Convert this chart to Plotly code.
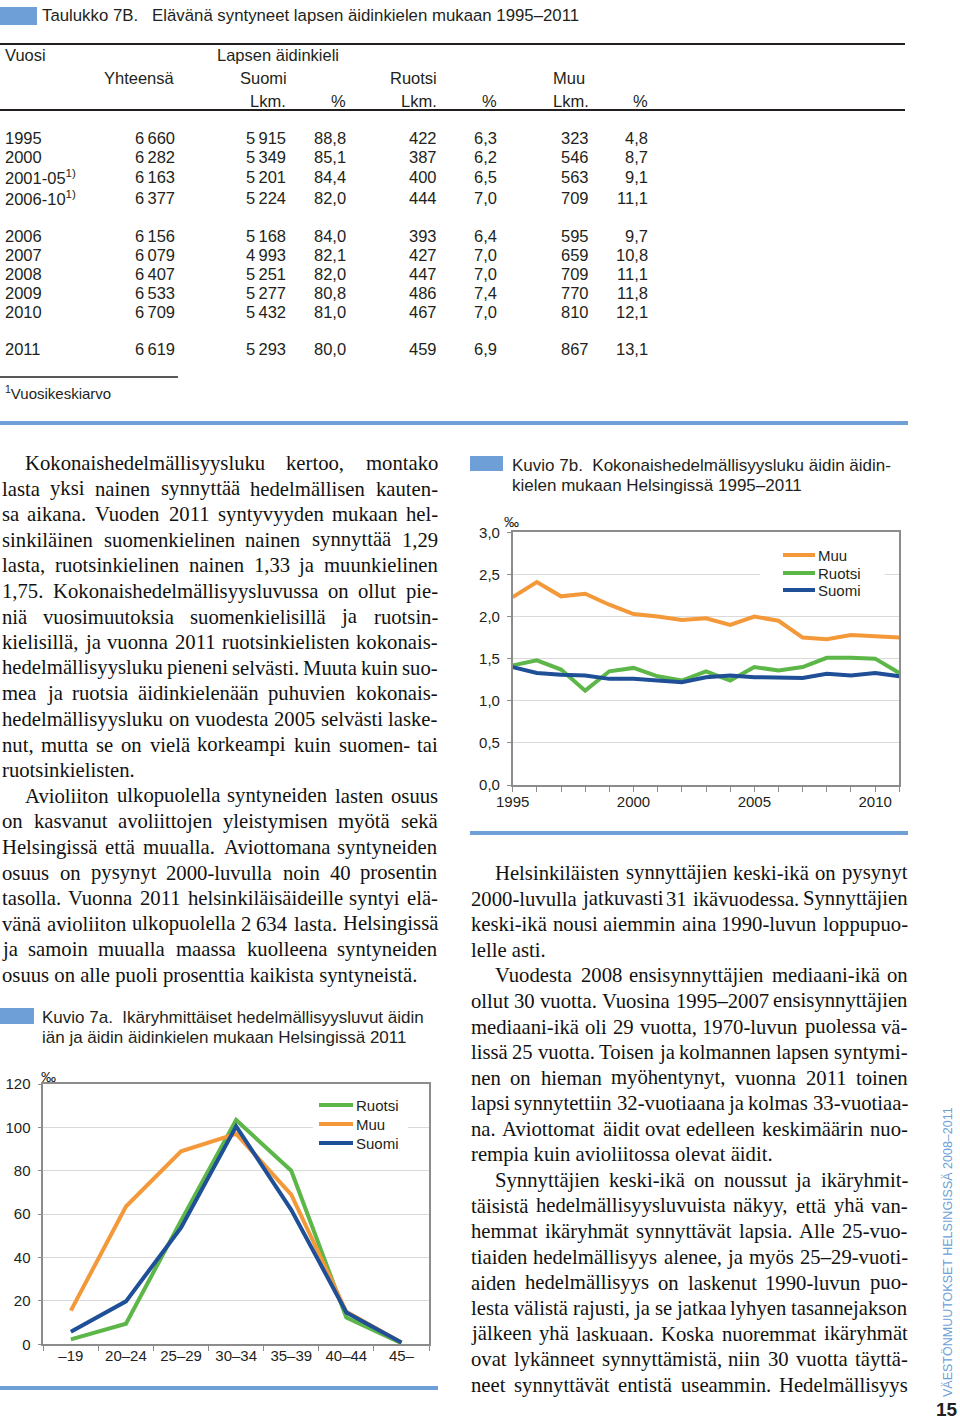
import plotly.graph_objects as go

W, H = 960, 1420

# ---------------- DATA ----------------
# Taulukko 7B
table_years = ["1995", "2000", "2001-05", "2006-10", "2006", "2007", "2008", "2009", "2010", "2011"]
table_avg = [False, False, True, True, False, False, False, False, False, False]
yhteensa = [6660, 6282, 6163, 6377, 6156, 6079, 6407, 6533, 6709, 6619]
suomi_lkm = [5915, 5349, 5201, 5224, 5168, 4993, 5251, 5277, 5432, 5293]
suomi_pct = [88.8, 85.1, 84.4, 82.0, 84.0, 82.1, 82.0, 80.8, 81.0, 80.0]
ruotsi_lkm = [422, 387, 400, 444, 393, 427, 447, 486, 467, 459]
ruotsi_pct = [6.3, 6.2, 6.5, 7.0, 6.4, 7.0, 7.0, 7.4, 7.0, 6.9]
muu_lkm = [323, 546, 563, 709, 595, 659, 709, 770, 810, 867]
muu_pct = [4.8, 8.7, 9.1, 11.1, 9.7, 10.8, 11.1, 11.8, 12.1, 13.1]

# Kuvio 7b
years = list(range(1995, 2012))
tfr_muu = [2.23, 2.41, 2.24, 2.27, 2.14, 2.03, 2.00, 1.96, 1.98, 1.90, 2.00, 1.95, 1.75, 1.73, 1.78, 1.76, 1.75]
tfr_ruotsi = [1.42, 1.48, 1.37, 1.12, 1.35, 1.39, 1.29, 1.24, 1.35, 1.24, 1.40, 1.36, 1.40, 1.51, 1.51, 1.50, 1.33]
tfr_suomi = [1.40, 1.33, 1.31, 1.30, 1.26, 1.26, 1.24, 1.22, 1.28, 1.30, 1.28, 1.27, 1.27, 1.32, 1.30, 1.33, 1.29]
year_ticks = [1995, 2000, 2005, 2010]

# Kuvio 7a
age_groups = ["–19", "20–24", "25–29", "30–34", "35–39", "40–44", "45–"]
asfr_ruotsi = [2.3, 9.5, 57.0, 103.4, 80.0, 12.3, 0.5]
asfr_muu = [15.5, 63.5, 89.0, 97.0, 69.0, 15.0, 0.8]
asfr_suomi = [5.8, 19.8, 53.8, 100.5, 62.0, 14.7, 0.8]

left_text = [
    "Kokonaishedelmällisyysluku kertoo, montako",
    "lasta yksi nainen synnyttää hedelmällisen kauten-",
    "sa aikana. Vuoden 2011 syntyvyyden mukaan hel-",
    "sinkiläinen suomenkielinen nainen synnyttää 1,29",
    "lasta, ruotsinkielinen nainen 1,33 ja muunkielinen",
    "1,75. Kokonaishedelmällisyysluvussa on ollut pie-",
    "niä vuosimuutoksia suomenkielisillä ja ruotsin-",
    "kielisillä, ja vuonna 2011 ruotsinkielisten kokonais-",
    "hedelmällisyysluku pieneni selvästi. Muuta kuin suo-",
    "mea ja ruotsia äidinkielenään puhuvien kokonais-",
    "hedelmällisyysluku on vuodesta 2005 selvästi laske-",
    "nut, mutta se on vielä korkeampi kuin suomen- tai",
    "ruotsinkielisten.",
    "Avioliiton ulkopuolella syntyneiden lasten osuus",
    "on kasvanut avoliittojen yleistymisen myötä sekä",
    "Helsingissä että muualla. Aviottomana syntyneiden",
    "osuus on pysynyt 2000-luvulla noin 40 prosentin",
    "tasolla. Vuonna 2011 helsinkiläisäideille syntyi elä-",
    "vänä avioliiton ulkopuolella 2 634 lasta. Helsingissä",
    "ja samoin muualla maassa kuolleena syntyneiden",
    "osuus on alle puoli prosenttia kaikista syntyneistä.",
]
left_indent = {0, 13}
left_ragged = {12, 20}

right_text = [
    "Helsinkiläisten synnyttäjien keski-ikä on pysynyt",
    "2000-luvulla jatkuvasti 31 ikävuodessa. Synnyttäjien",
    "keski-ikä nousi aiemmin aina 1990-luvun loppupuo-",
    "lelle asti.",
    "Vuodesta 2008 ensisynnyttäjien mediaani-ikä on",
    "ollut 30 vuotta. Vuosina 1995–2007 ensisynnyttäjien",
    "mediaani-ikä oli 29 vuotta, 1970-luvun puolessa vä-",
    "lissä 25 vuotta. Toisen ja kolmannen lapsen syntymi-",
    "nen on hieman myöhentynyt, vuonna 2011 toinen",
    "lapsi synnytettiin 32-vuotiaana ja kolmas 33-vuotiaa-",
    "na. Aviottomat äidit ovat edelleen keskimäärin nuo-",
    "rempia kuin avioliitossa olevat äidit.",
    "Synnyttäjien keski-ikä on noussut ja ikäryhmit-",
    "täisistä hedelmällisyysluvuista näkyy, että yhä van-",
    "hemmat ikäryhmät synnyttävät lapsia. Alle 25-vuo-",
    "tiaiden hedelmällisyys alenee, ja myös 25–29-vuoti-",
    "aiden hedelmällisyys on laskenut 1990-luvun puo-",
    "lesta välistä rajusti, ja se jatkaa lyhyen tasannejakson",
    "jälkeen yhä laskuaan. Koska nuoremmat ikäryhmät",
    "ovat lykänneet synnyttämistä, niin 30 vuotta täyttä-",
    "neet synnyttävät entistä useammin. Hedelmällisyys",
]
right_indent = {0, 4, 12}
right_ragged = {3, 11}

# ---------------- STYLE ----------------
ORANGE = "#F4993A"
GREEN = "#5CB648"
BLUE = "#1F4F97"
LBLUE = "#6E9FD6"
INK = "#231F20"
AXIS = "#8C8C8C"
GRID = "#DADADA"
SANS = "Liberation Sans, Arial, sans-serif"
SERIF = "Liberation Serif, serif"
BODY_SIZE = 20.7

# Approximate advance widths of the serif face (per 1000 em), used to justify lines
_W = {" ": 250, "a": 444, "b": 500, "c": 444, "d": 500, "e": 444, "f": 333, "g": 500, "h": 500,
      "i": 278, "j": 278, "k": 500, "l": 278, "m": 778, "n": 500, "o": 500, "p": 500, "q": 500,
      "r": 333, "s": 389, "t": 278, "u": 500, "v": 500, "w": 722, "x": 500, "y": 500, "z": 444,
      "ä": 444, "ö": 500, "å": 444, "A": 722, "B": 667, "C": 667, "D": 722, "E": 611, "F": 556,
      "G": 722, "H": 722, "I": 333, "J": 389, "K": 722, "L": 611, "M": 889, "N": 722, "O": 722,
      "P": 556, "Q": 722, "R": 667, "S": 556, "T": 611, "U": 722, "V": 722, "W": 944, "X": 722,
      "Y": 722, "Z": 611, "Ä": 722, "Ö": 722, ",": 250, ".": 250, "-": 333, "–": 500, ":": 278,
      ";": 278, "(": 333, ")": 333}


def text_width(s, size):
    return sum(_W.get(ch, 500) for ch in s) * size / 1000.0


def px(x):
    return x / W


def py(y):
    return 1 - y / H


def fmt_int(v):
    return f"{v:,}".replace(",", "\u2009")


def fmt_pct(v):
    return f"{v:.1f}".replace(".", ",")


fig = go.Figure()

series_7b = [("Muu", tfr_muu, ORANGE), ("Ruotsi", tfr_ruotsi, GREEN), ("Suomi", tfr_suomi, BLUE)]
series_7a = [("Ruotsi", asfr_ruotsi, GREEN), ("Muu", asfr_muu, ORANGE), ("Suomi", asfr_suomi, BLUE)]

for name, vals, col in series_7b:
    fig.add_trace(go.Scatter(x=years, y=vals, name=name, mode="lines",
                             line=dict(color=col, width=4), xaxis="x", yaxis="y",
                             showlegend=False, hoverinfo="skip"))

for name, vals, col in series_7a:
    fig.add_trace(go.Scatter(x=age_groups, y=vals, name=name, mode="lines",
                             line=dict(color=col, width=4), xaxis="x2", yaxis="y2",
                             showlegend=False, hoverinfo="skip"))

tickfont = dict(family=SANS, size=15, color=INK)

layout_axes = dict(
    xaxis=dict(domain=[px(512.7), px(899.3)], anchor="y", range=[1995, 2011],
               tickvals=year_ticks, ticks="outside", ticklen=5, tickcolor=AXIS,
               minor=dict(dtick=1, tick0=1995, ticks="outside", ticklen=5, tickcolor=AXIS, showgrid=False),
               showline=True, linecolor=AXIS, linewidth=1.5, mirror=True, showgrid=False,
               zeroline=False, tickfont=tickfont, fixedrange=True, automargin=False,
               ticklabelstandoff=-3),
    yaxis=dict(domain=[py(785), py(532.3)], anchor="x", range=[0, 3], dtick=0.5,
               tickformat=".1f", ticks="outside", ticklen=4, tickcolor=AXIS,
               showline=True, linecolor=AXIS, linewidth=1.5, mirror=True,
               gridcolor=GRID, gridwidth=1, zeroline=False, tickfont=tickfont,
               fixedrange=True, automargin=False, ticklabelstandoff=4),
    xaxis2=dict(domain=[px(43.3), px(429)], anchor="y2", type="category",
                categoryorder="array", categoryarray=age_groups, range=[-0.5, 6.5],
                tickson="boundaries", ticks="outside", ticklen=5, tickcolor=AXIS,
                showline=True, linecolor=AXIS, linewidth=1.5, mirror=True, showgrid=False,
                zeroline=False, tickfont=tickfont, fixedrange=True, automargin=False,
                ticklabelstandoff=-3),
    yaxis2=dict(domain=[py(1344.3), py(1084)], anchor="x2", range=[0, 120], dtick=20,
                ticks="outside", ticklen=4, tickcolor=AXIS,
                showline=True, linecolor=AXIS, linewidth=1.5, mirror=True,
                gridcolor=GRID, gridwidth=1, zeroline=False, tickfont=tickfont,
                fixedrange=True, automargin=False, ticklabelstandoff=4),
)

annotations = []


def txt(x, y, s, size=15, family=SANS, color=INK, xanchor="left", yanchor="middle", **kw):
    annotations.append(dict(x=px(x), y=py(y), xref="paper", yref="paper", text=s, showarrow=False,
                            xanchor=xanchor, yanchor=yanchor, borderpad=0, borderwidth=0,
                            font=dict(size=size, family=family, color=color), **kw))


def justified(line, x0, x1, y, size, ragged):
    color = "#111111"
    words = line.split(" ")
    if ragged or len(words) < 2:
        txt(x0, y, line, size=size, family=SERIF, color=color)
        return
    widths = [text_width(w, size) for w in words]
    gap = (x1 - x0 - sum(widths)) / (len(words) - 1)
    n = len(words)
    half = n // 2
    # first half placed from the left edge, second half from the right edge
    xx = x0
    for i in range(half):
        txt(xx, y, words[i], size=size, family=SERIF, color=color)
        xx += widths[i] + gap
    xr = x1
    for i in range(n - 1, half - 1, -1):
        txt(xr, y, words[i], size=size, family=SERIF, color=color, xanchor="right")
        xr -= widths[i] + gap


shapes = []


def hline(x0, x1, y, width, color):
    shapes.append(dict(type="line", xref="paper", yref="paper", x0=px(x0), x1=px(x1), y0=py(y), y1=py(y),
                       line=dict(color=color, width=width)))


def box(x0, y0, x1, y1, color):
    shapes.append(dict(type="rect", xref="paper", yref="paper", x0=px(x0), x1=px(x1), y0=py(y1), y1=py(y0),
                       fillcolor=color, line=dict(width=0)))


# Title of table
txt(42, 16, "Taulukko 7B.\u00a0\u00a0\u00a0Elävänä syntyneet lapsen äidinkielen mukaan 1995–2011", size=16.8)

# Table header
HS = 16.5
txt(5, 55, "Vuosi", size=HS)
txt(217, 55, "Lapsen äidinkieli", size=HS)
txt(175, 78, "Yhteensä", size=HS, xanchor="right")
txt(240, 78, "Suomi", size=HS)
txt(390, 78, "Ruotsi", size=HS)
txt(553, 78, "Muu", size=HS)
for xr, s in [(286, "Lkm."), (346, "%"), (437, "Lkm."), (497, "%"), (589, "Lkm."), (648, "%")]:
    txt(xr, 101, s, size=HS, xanchor="right")

row_y = [138, 157, 177, 198, 236, 255, 274, 293, 312, 349]
for i, yy in enumerate(row_y):
    lab = table_years[i] + ("<sup>1)</sup>" if table_avg[i] else "")
    txt(5, yy, lab, size=HS)
    txt(175, yy, fmt_int(yhteensa[i]), size=HS, xanchor="right")
    txt(286, yy, fmt_int(suomi_lkm[i]), size=HS, xanchor="right")
    txt(346, yy, fmt_pct(suomi_pct[i]), size=HS, xanchor="right")
    txt(437, yy, fmt_int(ruotsi_lkm[i]), size=HS, xanchor="right")
    txt(497, yy, fmt_pct(ruotsi_pct[i]), size=HS, xanchor="right")
    txt(589, yy, fmt_int(muu_lkm[i]), size=HS, xanchor="right")
    txt(648, yy, fmt_pct(muu_pct[i]), size=HS, xanchor="right")

txt(5, 393, "<sup>1</sup>Vuosikeskiarvo", size=15)

# Body text (justified columns)
for i, line in enumerate(left_text):
    justified(line, 25 if i in left_indent else 2, 438, 463 + i * 25.6, BODY_SIZE, i in left_ragged)
for i, line in enumerate(right_text):
    justified(line, 495 if i in right_indent else 471, 908, 873 + i * 25.6, BODY_SIZE, i in right_ragged)

# Figure titles
txt(512, 465, "Kuvio 7b.\u00a0\u00a0Kokonaishedelmällisyysluku äidin äidin-", size=17)
txt(512, 485, "kielen mukaan Helsingissä 1995–2011", size=17)
txt(42, 1017, "Kuvio 7a.\u00a0\u00a0Ikäryhmittäiset hedelmällisyysluvut äidin", size=17)
txt(42, 1037, "iän ja äidin äidinkielen mukaan Helsingissä 2011", size=17)

# permille unit labels
txt(511, 522, "‰", size=15, xanchor="center")
txt(48, 1076, "‰", size=15, xanchor="center")

# Legends (white panel interrupting the gridline, swatch + label)
box(760, 547, 885, 599, "white")
for (name, vals, col), ly in zip(series_7b, [555, 573, 590]):
    hline(783, 815, ly, 4, col)
    txt(818, ly, name, size=15)
box(313, 1094, 408, 1153, "white")
for (name, vals, col), ly in zip(series_7a, [1105, 1124, 1143]):
    hline(319, 353, ly, 4, col)
    txt(356, ly, name, size=15)

# Side text and page number
txt(948, 1252, "VÄESTÖNMUUTOKSET HELSINGISSÄ 2008–2011", size=12.5, color=LBLUE,
    xanchor="center", textangle=-90)
txt(947, 1409, "<b>15</b>", size=19, color=INK, xanchor="center")

# Rules and colour boxes
hline(0, 905, 44, 2, INK)
hline(0, 905, 110, 2, INK)
hline(0, 178, 377, 1.5, INK)
hline(0, 908, 423, 4, LBLUE)
hline(470, 908, 833, 4, LBLUE)
hline(0, 438, 1388, 4, LBLUE)
box(0, 7, 37, 25, LBLUE)
box(470, 456, 503, 471, LBLUE)
box(0, 1008, 34, 1024, LBLUE)

fig.update_layout(
    width=W, height=H, margin=dict(l=0, r=0, t=0, b=0, pad=0, autoexpand=False),
    paper_bgcolor="white", plot_bgcolor="white",
    separators=", ",
    showlegend=False,
    annotations=annotations,
    shapes=shapes,
    **layout_axes,
)

fig.write_html("out.html", config=dict(displayModeBar=False),
               post_script="document.body.style.margin='0px';document.body.style.padding='0px';")
